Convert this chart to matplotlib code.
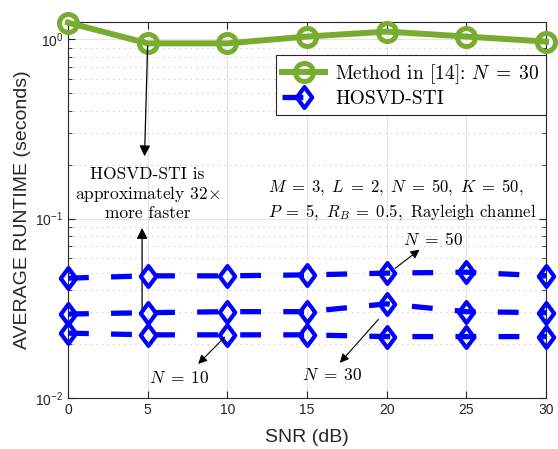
import matplotlib
matplotlib.use("Agg")
import matplotlib.pyplot as plt
import numpy as np
from matplotlib.path import Path
from matplotlib.ticker import LogLocator, NullFormatter, FixedLocator

# ---- data ----
snr = [0, 5, 10, 15, 20, 25, 30]
method14_n30 = [1.24, 0.95, 0.95, 1.037, 1.105, 1.037, 0.972]
hosvd_n50 = [0.0466, 0.0480, 0.0480, 0.0486, 0.0497, 0.0503, 0.0480]
hosvd_n30 = [0.0294, 0.0299, 0.0303, 0.0303, 0.0335, 0.0303, 0.0299]
hosvd_n10 = [0.0230, 0.0225, 0.0225, 0.0225, 0.0220, 0.0220, 0.0220]
xticks = [0, 5, 10, 15, 20, 25, 30]
legend_labels = [r'Method in [14]: $N\;=\;30$', 'HOSVD-STI']

green = '#77AC30'
blue = '#0000FF'
axcol = '#262626'

plt.rcParams['font.family'] = ['Liberation Sans', 'DejaVu Sans']
plt.rcParams['lines.scale_dashes'] = False

fig = plt.figure(figsize=(5.58, 4.49), dpi=100)
ax = fig.add_axes([68/558, 1-398/449, (546-68)/558, (398-22)/449])

diamond = Path([(0, 1), (0.74, 0), (0, -1), (-0.74, 0), (0, 1)],
               [Path.MOVETO, Path.LINETO, Path.LINETO, Path.LINETO, Path.CLOSEPOLY])

ax.plot(snr, method14_n30, '-', color=green, lw=4.3, marker='o', ms=13,
        mfc='none', mec=green, mew=3.6, clip_on=False, zorder=5,
        label=legend_labels[0])
first = True
for ys in [hosvd_n50, hosvd_n30, hosvd_n10]:
    ax.plot(snr, ys, color=blue, lw=3.8, dashes=(15, 16), marker=diamond,
            ms=15, mfc='none', mec=blue, mew=3.0, clip_on=False, zorder=4,
            label=legend_labels[1] if first else None)
    first = False

ax.set_yscale('log')
ax.set_xlim(0, 30)
ax.set_ylim(0.01, 1.25)
ax.set_xticks(xticks)
ax.yaxis.set_major_locator(FixedLocator([0.01, 0.1, 1]))
ax.yaxis.set_minor_locator(LogLocator(base=10, subs=np.arange(2, 10)))
ax.yaxis.set_minor_formatter(NullFormatter())
ax.set_yticklabels([r'$\mathdefault{10^{-2}}$', r'$\mathdefault{10^{-1}}$', r'$\mathdefault{10^{0}}$'])

ax.grid(True, which='major', color='#e3e3e3', lw=0.8, ls='-')
ax.grid(True, which='minor', axis='y', color='#cfcfcf', lw=0.8, ls=(0, (1, 3)))
ax.set_axisbelow(True)

ax.tick_params(which='both', direction='in', top=True, right=True, colors=axcol,
               labelsize=10)
ax.tick_params(which='major', length=5)
ax.tick_params(which='minor', length=3)
for sp in ax.spines.values():
    sp.set_color(axcol)
    sp.set_linewidth(0.8)

ax.set_xlabel('SNR (dB)', fontsize=14, color=axcol, labelpad=9)
ax.set_ylabel('AVERAGE RUNTIME (seconds)', fontsize=14, color=axcol, labelpad=3)

tk = dict(fontfamily='cmr10', math_fontfamily='cm', fontsize=12.5, color='black')

# annotation arrows
arr = dict(arrowstyle='-|>', color='black', lw=0.9, mutation_scale=16)
ax.annotate('', xy=(4.8, 0.215), xytext=(5.0, 0.95), arrowprops=arr, zorder=6)
ax.annotate('', xy=(4.65, 0.092), xytext=(4.65, 0.0300), arrowprops=arr, zorder=3)
ax.text(5.0, 0.138, 'HOSVD-STI is\napproximately 32$\\times$\nmore faster',
        ha='center', va='center', linespacing=1.15, **tk)

tk2 = dict(tk, fontsize=12)
ax.text(12.55, 0.128,
        '$M\\;=\\;3,\\ L\\;=\\;2,\\ N\\;=\\;50,\\ K\\;=\\;50,$\n'
        '$P\\;=\\;5,\\ R_B\\;=\\;0.5,$ Rayleigh channel',
        ha='left', va='center', linespacing=1.35, **tk2)

arr2 = dict(arrowstyle='-|>', color='black', lw=0.8, mutation_scale=13)
ax.annotate('', xy=(22.2, 0.0687), xytext=(20.4, 0.0518), arrowprops=arr2, zorder=6)
ax.text(22.9, 0.0765, '$N\\;=\\;50$', ha='center', va='center', **tk)
ax.annotate('', xy=(8.05, 0.0151), xytext=(9.95, 0.0224), arrowprops=arr2, zorder=6)
ax.text(7.0, 0.0129, '$N\\;=\\;10$', ha='center', va='center', **tk)
ax.annotate('', xy=(16.95, 0.0153), xytext=(19.6, 0.0282), arrowprops=arr2, zorder=6)
ax.text(16.6, 0.01345, '$N\\;=\\;30$', ha='center', va='center', **tk)

leg = ax.legend(loc='upper right', bbox_to_anchor=(1.0, 1 - 33/376),
                prop={'family': 'cmr10', 'size': 14}, handlelength=2.2,
                fancybox=False, framealpha=1, edgecolor=axcol, borderpad=0.35,
                labelspacing=0.22, handletextpad=0.5, borderaxespad=0)
leg.get_frame().set_linewidth(0.8)
for t in leg.get_texts():
    t.set_math_fontfamily('cm')

fig.savefig('out.png', dpi=100)
